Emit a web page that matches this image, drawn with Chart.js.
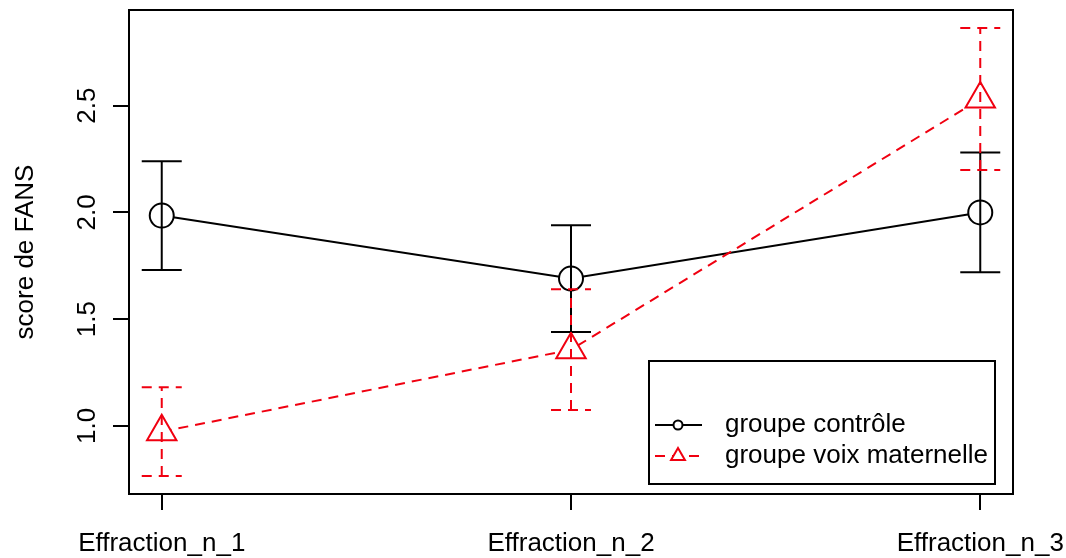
<!DOCTYPE html>
<html>
<head>
<meta charset="utf-8">
<script src="https://cdn.jsdelivr.net/npm/chart.js@4.4.1/dist/chart.umd.min.js"></script>
<style>
  html, body { margin: 0; padding: 0; background: #fff; }
  #wrap { width: 1066px; height: 558px; }
</style>
</head>
<body>
<div id="wrap"><canvas id="chart" width="1066" height="558"></canvas></div>
<script>
// data
const categories = ['Effraction_n_1', 'Effraction_n_2', 'Effraction_n_3'];
const xPositions = [1, 2, 3];
const controlMeans = [1.985, 1.69, 2.0];
const controlErrors = [0.255, 0.25, 0.28];
const voixMeans = [0.973, 1.357, 2.531];
const voixErrors = [0.208, 0.283, 0.333];
const yTicks = [1.0, 1.5, 2.0, 2.5];
const seriesNames = ['groupe contrôle', 'groupe voix maternelle'];
const yTitle = 'score de FANS';

const RED = '#f00010';
const FONT = '26px "Liberation Sans", Arial, Helvetica, sans-serif';
const DASH = [10, 7];

// R style 4% axis extension
const lows = controlMeans.map((m, i) => m - controlErrors[i]).concat(voixMeans.map((m, i) => m - voixErrors[i]));
const highs = controlMeans.map((m, i) => m + controlErrors[i]).concat(voixMeans.map((m, i) => m + voixErrors[i]));
const yLo = Math.min(...lows), yHi = Math.max(...highs);
const yPad = (yHi - yLo) * 0.04;
const xPad = (xPositions[xPositions.length - 1] - xPositions[0]) * 0.04;

const toPoints = (vals) => vals.map((v, i) => ({ x: xPositions[i], y: v }));

function errorBars(ctx, xs, ys, means, errs, color, dash) {
    ctx.save();
    ctx.strokeStyle = color;
    ctx.lineWidth = 2;
    ctx.setLineDash(dash);
    means.forEach((m, i) => {
        const px = xs.getPixelForValue(xPositions[i]);
        const top = ys.getPixelForValue(m + errs[i]);
        const bot = ys.getPixelForValue(m - errs[i]);
        ctx.beginPath();
        ctx.moveTo(px, bot);
        ctx.lineTo(px, top);
        ctx.stroke();
        [top, bot].forEach(py => {
            ctx.beginPath();
            ctx.moveTo(px - 20, py);
            ctx.lineTo(px + 20, py);
            ctx.stroke();
        });
    });
    ctx.restore();
}

const rBase = {
    id: 'rBase',
    afterDatasetsDraw(chart) {
        const { ctx, scales: { x, y } } = chart;
        errorBars(ctx, x, y, controlMeans, controlErrors, '#000', []);
        errorBars(ctx, x, y, voixMeans, voixErrors, RED, DASH);
    },
    afterDraw(chart) {
        const { ctx, chartArea: a, scales: { x, y } } = chart;
        ctx.save();
        ctx.strokeStyle = '#000';
        ctx.lineWidth = 2;
        ctx.strokeRect(a.left, a.top, a.right - a.left, a.bottom - a.top);

        ctx.fillStyle = '#000';
        ctx.font = FONT;
        ctx.textAlign = 'center';
        ctx.textBaseline = 'alphabetic';
        categories.forEach((c, i) => {
            ctx.fillText(c, x.getPixelForValue(xPositions[i]), 551);
        });
        yTicks.forEach(v => {
            ctx.save();
            ctx.translate(95, y.getPixelForValue(v));
            ctx.rotate(-Math.PI / 2);
            ctx.fillText(v.toFixed(1), 0, 0);
            ctx.restore();
        });
        ctx.save();
        ctx.translate(33, (a.top + a.bottom) / 2);
        ctx.rotate(-Math.PI / 2);
        ctx.fillText(yTitle, 0, 0);
        ctx.restore();

        // legend box
        ctx.strokeRect(649, 361, 346, 123);
        const rows = [425, 456];
        // control
        ctx.beginPath();
        ctx.moveTo(655, rows[0]); ctx.lineTo(702, rows[0]);
        ctx.stroke();
        ctx.beginPath();
        ctx.arc(678, rows[0], 4.5, 0, Math.PI * 2);
        ctx.fillStyle = '#fff'; ctx.fill(); ctx.stroke();
        // voix
        ctx.strokeStyle = RED;
        ctx.setLineDash(DASH);
        ctx.beginPath();
        ctx.moveTo(655, rows[1]); ctx.lineTo(702, rows[1]);
        ctx.stroke();
        ctx.setLineDash([]);
        const r = 8;
        ctx.beginPath();
        ctx.moveTo(678, rows[1] - r);
        ctx.lineTo(678 + r * Math.sqrt(3) / 2, rows[1] + r / 2);
        ctx.lineTo(678 - r * Math.sqrt(3) / 2, rows[1] + r / 2);
        ctx.closePath();
        ctx.fill(); ctx.stroke();

        ctx.fillStyle = '#000';
        ctx.textAlign = 'left';
        ctx.fillText(seriesNames[0], 725, rows[0] + 6.5);
        ctx.fillText(seriesNames[1], 725, rows[1] + 6.5);
        ctx.restore();
    }
};

new Chart(document.getElementById('chart'), {
    type: 'scatter',
    data: {
        datasets: [{
            label: seriesNames[0],
            data: toPoints(controlMeans),
            showLine: true,
            borderColor: '#000',
            borderWidth: 2,
            pointStyle: 'circle',
            pointRadius: 12,
            pointBorderWidth: 2,
            pointBorderColor: '#000',
            pointBackgroundColor: '#fff',
            order: 1
        }, {
            label: seriesNames[1],
            data: toPoints(voixMeans),
            showLine: true,
            borderColor: RED,
            borderWidth: 2,
            borderDash: DASH,
            pointStyle: 'triangle',
            pointRadius: 17,
            pointBorderWidth: 2,
            pointBorderColor: RED,
            pointBackgroundColor: '#fff',
            order: 0
        }]
    },
    options: {
        responsive: false,
        animation: false,
        devicePixelRatio: 1,
        layout: { autoPadding: false, padding: { top: 10, right: 53, left: 0, bottom: 0 } },
        plugins: { legend: { display: false }, tooltip: { enabled: false } },
        scales: {
            x: {
                type: 'linear',
                min: xPositions[0] - xPad,
                max: xPositions[xPositions.length - 1] + xPad,
                afterBuildTicks: s => { s.ticks = xPositions.map(v => ({ value: v })); },
                afterFit: s => { s.height = 64; },
                ticks: { display: false },
                grid: { drawOnChartArea: false, drawTicks: true, tickLength: 16, color: '#000', lineWidth: 2 },
                border: { display: true, color: '#000', width: 2 }
            },
            y: {
                type: 'linear',
                min: yLo - yPad,
                max: yHi + yPad,
                afterBuildTicks: s => { s.ticks = yTicks.map(v => ({ value: v })); },
                afterFit: s => { s.width = 129; },
                ticks: { display: false },
                grid: { drawOnChartArea: false, drawTicks: true, tickLength: 16, color: '#000', lineWidth: 2 },
                border: { display: true, color: '#000', width: 2 }
            }
        }
    },
    plugins: [rBase]
});
</script>
</body>
</html>
